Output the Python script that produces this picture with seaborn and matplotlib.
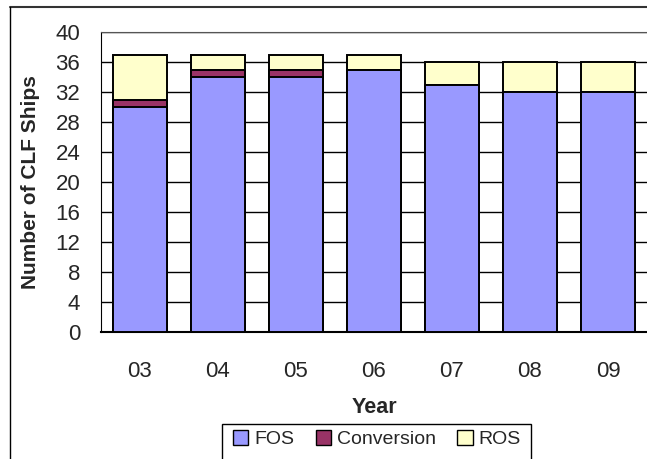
import matplotlib
matplotlib.use("Agg")
import matplotlib.pyplot as plt
import seaborn as sns
import pandas as pd
from matplotlib.patches import Patch, Rectangle
from matplotlib.lines import Line2D
from matplotlib.ticker import MultipleLocator

years = ['03', '04', '05', '06', '07', '08', '09']
fos = [30, 34, 34, 35, 33, 32, 32]
conversion = [1, 1, 1, 0, 0, 0, 0]
ros = [6, 2, 2, 2, 3, 4, 4]

FOS_COLOR = '#9999FF'
CONV_COLOR = '#993366'
ROS_COLOR = '#FFFFCC'

W, H = 647, 459


def build_frame() -> pd.DataFrame:
    df = pd.DataFrame({'Year': years, 'FOS': fos, 'Conversion': conversion, 'ROS': ros})
    df['conv_top'] = df['FOS'] + df['Conversion']
    df['ros_top'] = df['conv_top'] + df['ROS']
    return df


def plot_bars(df, ax):
    """Stacked bars drawn as cumulative layers, tallest first."""
    for col, color in [('ros_top', ROS_COLOR), ('conv_top', CONV_COLOR), ('FOS', FOS_COLOR)]:
        sns.barplot(data=df, x='Year', y=col, color=color, width=0.68,
                    edgecolor='black', linewidth=1.4, saturation=1, ax=ax, zorder=3)


def style_axes(ax):
    ax.set_xlim(-0.5, len(years) - 0.5)
    ax.set_ylim(0, 40)
    ax.yaxis.set_major_locator(MultipleLocator(4))
    ax.yaxis.set_minor_locator(MultipleLocator(2))
    ax.grid(axis='y', which='major', color='black', linewidth=1, zorder=0)
    ax.set_axisbelow(True)

    ax.set_xticks(range(len(years)))
    ax.set_xticklabels(years)
    ax.tick_params(axis='x', length=0, pad=21, labelsize=16)
    # category boundary ticks
    ax.set_xticks([i - 0.5 for i in range(len(years) + 1)], minor=True)
    ax.tick_params(axis='x', which='minor', length=8, width=1, color='black', direction='out')
    ax.tick_params(axis='y', which='major', length=6, width=1, labelsize=16, pad=9)
    ax.tick_params(axis='y', which='minor', length=4, width=1)

    ax.set_xlabel('Year', fontsize=15.5, fontweight='bold', labelpad=11)
    ax.set_ylabel('Number of CLF Ships', fontsize=15, fontweight='bold', labelpad=11)

    ax.spines['right'].set_visible(False)
    ax.spines['top'].set_color('#555555')
    ax.spines['left'].set_color('black')
    ax.spines['bottom'].set_color('black')
    ax.spines['bottom'].set_linewidth(1.5)


def add_legend_and_frame(fig):
    handles = [Patch(facecolor=FOS_COLOR, edgecolor='black', label='FOS'),
               Patch(facecolor=CONV_COLOR, edgecolor='black', label='Conversion'),
               Patch(facecolor=ROS_COLOR, edgecolor='black', label='ROS')]
    fig.legend(handles=handles, ncol=3, frameon=False, fontsize=14,
               loc='center', bbox_to_anchor=(377 / W, 1 - 439 / H),
               handlelength=0.8, handleheight=0.8, handletextpad=0.3,
               columnspacing=1.1)
    fig.add_artist(Rectangle((222 / W, -0.05), (531 - 222) / W, 0.05 + 1 - 424 / H,
                             transform=fig.transFigure, fill=False,
                             edgecolor='black', linewidth=1))
    fig.add_artist(Line2D([10 / W, 1.01], [1 - 7 / H, 1 - 7 / H],
                          transform=fig.transFigure, color='#333333', linewidth=1.5))
    fig.add_artist(Line2D([10 / W, 10 / W], [1 - 7 / H, -0.01],
                          transform=fig.transFigure, color='black', linewidth=1))


sns.set_style('white')
plt.rcParams['font.family'] = ['Liberation Sans', 'DejaVu Sans']

fig = plt.figure(figsize=(W / 100, H / 100), dpi=100)
ax = fig.add_axes([101 / W, 1 - 332 / H, 1 - 101 / W, 300 / H])

df = build_frame()
plot_bars(df, ax)
style_axes(ax)
add_legend_and_frame(fig)

fig.savefig('out.png', dpi=100)
